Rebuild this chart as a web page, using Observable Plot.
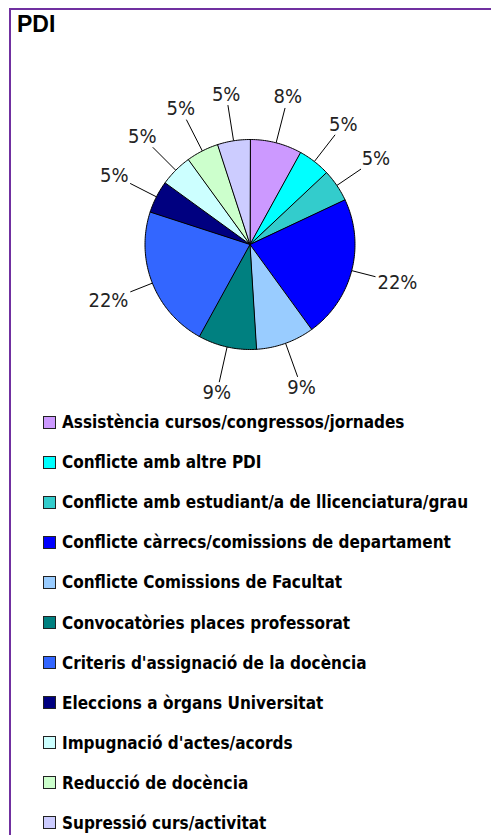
<!DOCTYPE html>
<html>
<head>
<meta charset="utf-8">
<script src="https://cdn.jsdelivr.net/npm/d3@7"></script>
<script src="https://cdn.jsdelivr.net/npm/@observablehq/plot@0.6"></script>
<style>
  html, body { margin: 0; padding: 0; background: #fff; overflow: hidden; width: 491px; height: 835px; }
  #frame { position: absolute; left: 9px; top: 8px; width: 520px; height: 900px; border-top: 2px solid #7030A0; border-left: 2px solid #7030A0; }
  #title { position: absolute; left: 17px; top: 13px; font: bold 23px/23px "Liberation Sans", Arial, sans-serif; color: #000; }
  #pie { position: absolute; left: 0; top: 40px; }
  #legend { position: absolute; left: 43px; top: 402px; font-family: "DejaVu Sans Condensed", "DejaVu Sans", sans-serif; font-stretch: condensed; font-weight: bold; font-size: 17px; color: #000; }
  .item { display: flex; align-items: center; height: 40.1px; }
  .sw { width: 11px; height: 11px; border: 1px solid #222; margin-right: 6px; flex: none; }
</style>
</head>
<body>
<div id="frame"></div>
<div id="title">PDI</div>
<div id="pie"></div>
<div id="legend"></div>
<script>
const categories = [
  "Assistència cursos/congressos/jornades",
  "Conflicte amb altre PDI",
  "Conflicte amb estudiant/a de llicenciatura/grau",
  "Conflicte càrrecs/comissions de departament",
  "Conflicte Comissions de Facultat",
  "Convocatòries places professorat",
  "Criteris d'assignació de la docència",
  "Eleccions a òrgans Universitat",
  "Impugnació d'actes/acords",
  "Reducció de docència",
  "Supressió curs/activitat"
];
const values = [8, 5, 5, 22, 9, 9, 22, 5, 5, 5, 5];
const colors = ["#CC99FF", "#00FFFF", "#33CCCC", "#0000FF", "#99CCFF", "#008080", "#3366FF", "#000080", "#CCFFFF", "#CCFFCC", "#CCCCFF"];
const labels = values.map(v => v + "%");

// geometry (layout only)
const R = 105, cx = 249.5, cy = 204, W = 491, H = 355;
const labelR = 1.45;

const arcs = d3.pie().sort(null).value(d => d)(values);
const slicePts = [];
arcs.forEach((a, i) => {
  slicePts.push({cat: categories[i], x: 0, y: 0});
  const n = Math.max(2, Math.ceil((a.endAngle - a.startAngle) / (Math.PI / 180)));
  for (let k = 0; k <= n; k++) {
    const t = a.startAngle + (a.endAngle - a.startAngle) * k / n;
    slicePts.push({cat: categories[i], x: Math.sin(t), y: Math.cos(t)});
  }
});

const labelData = arcs.map((a, i) => {
  const m = (a.startAngle + a.endAngle) / 2;
  const s = Math.sin(m), c = Math.cos(m);
  const hw = labels[i].length * 6 + 2, hh = 9;
  const cut = Math.min(hw / Math.max(Math.abs(s), 1e-6), hh / Math.max(Math.abs(c), 1e-6));
  const endR = (labelR * R - cut - 2) / R;
  return {
    text: labels[i],
    x: labelR * s, y: labelR * c,
    x1: s, y1: c,
    x2: endR * s, y2: endR * c
  };
});

const pie = Plot.plot({
  width: W, height: H,
  margin: 0,
  x: {domain: [-1, 1], range: [cx - R, cx + R], axis: null},
  y: {domain: [-1, 1], range: [cy + R, cy - R], axis: null},
  color: {domain: categories, range: colors},
  style: {background: "transparent", overflow: "visible"},
  marks: [
    Plot.link(labelData.filter(d => Math.hypot(d.x2, d.y2) > 1.03), {x1: "x1", y1: "y1", x2: "x2", y2: "y2", stroke: "#000", strokeWidth: 1}),
    Plot.line(slicePts, {x: "x", y: "y", z: "cat", fill: "cat", stroke: "#000", strokeWidth: 1, strokeLinejoin: "round", curve: "linear-closed"}),
    Plot.text(labelData, {x: "x", y: "y", text: "text", fontSize: 20, fontFamily: "'DejaVu Sans Condensed', 'DejaVu Sans', sans-serif", fill: "#222"})
  ]
});
document.getElementById("pie").appendChild(pie);

const legend = document.getElementById("legend");
categories.forEach((c, i) => {
  const row = document.createElement("div");
  row.className = "item";
  const sw = document.createElement("span");
  sw.className = "sw";
  sw.style.background = colors[i];
  const t = document.createElement("span");
  t.textContent = c;
  row.appendChild(sw);
  row.appendChild(t);
  legend.appendChild(row);
});
</script>
</body>
</html>
